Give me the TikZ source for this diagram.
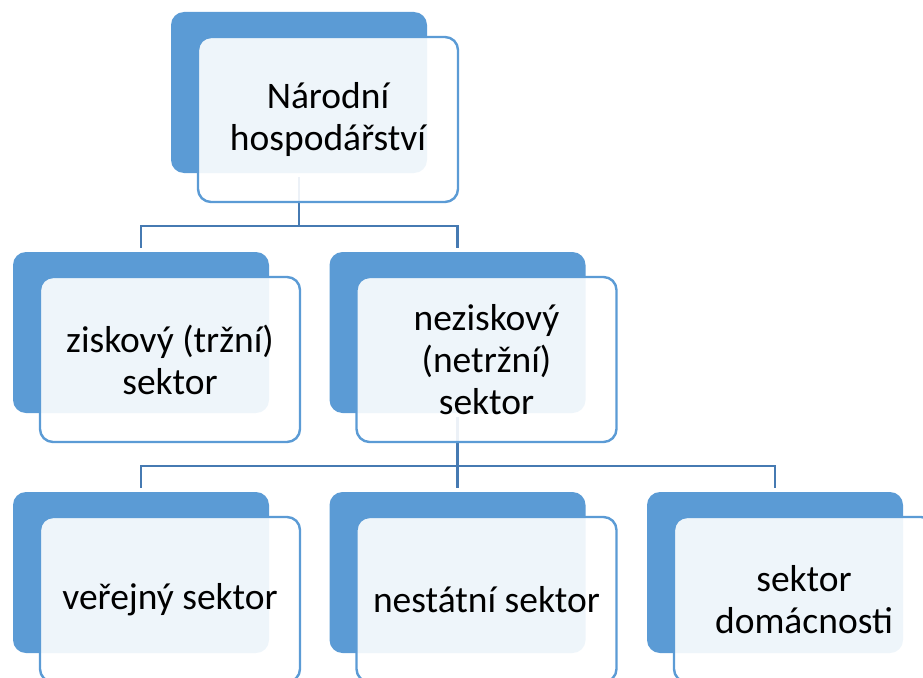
\documentclass[tikz,border=0pt]{standalone}
\usepackage{fontspec}
\setmainfont{Carlito}
\usetikzlibrary{positioning}
\definecolor{boxblue}{RGB}{91,155,213}
\definecolor{linkblue}{RGB}{70,122,178}

\begin{document}
\begin{tikzpicture}[x=1pt,y=-1pt,
    backbox/.style={fill=boxblue,rounded corners=13pt,minimum width=256pt,minimum height=161pt,inner sep=0pt},
    frontbox/.style={draw=boxblue,line width=2.4pt,fill=white,fill opacity=0.9,text opacity=1,rounded corners=13pt,
        minimum width=260pt,minimum height=165pt,inner sep=0pt,align=center,font=\fontsize{37.5}{42}\selectfont},
    link/.style={draw=linkblue,line width=2.8pt,shorten >=4pt,shorten <=4pt}]
        \useasboundingbox (0,0) rectangle (923,677);

        \node[backbox] (nh-b) at (299,92.5) {};
        \node[backbox] (zs-b) at (141,332.5) {};
        \node[backbox] (ns-b) at (457.5,332.5) {};
        \node[backbox] (vs-b) at (141,572.5) {};
        \node[backbox] (st-b) at (457.5,572.5) {};
        \node[backbox] (sd-b) at (775,572.5) {};

        \coordinate (j1) at (299,226);
        \coordinate (j2) at (457.5,466);
        \path[link] (nh-b.south) -- (j1) -| (zs-b.north);
        \path[link] (nh-b.south) -- (j1) -| (ns-b.north);
        \path[link] (ns-b.south) -- (j2) -| (vs-b.north);
        \path[link] (ns-b.south) -- (j2) -| (st-b.north);
        \path[link] (ns-b.south) -- (j2) -| (sd-b.north);

        \node[frontbox] (nh) at (328,119.5) {Národní\\hospodářství};
        \node[frontbox] (zs) at (170,359.5) {ziskový (tržní)\\sektor};
        \node[frontbox] (ns) at (486.5,359.5) {neziskový\\(netržní)\\sektor};
        \node[frontbox] (vs) at (170,599.5) {veřejný sektor};
        \node[frontbox] (st) at (486.5,599.5) {nestátní sektor};
        \node[frontbox] (sd) at (804,599.5) {sektor\\domácnosti};
    \end{tikzpicture}
\end{document}
